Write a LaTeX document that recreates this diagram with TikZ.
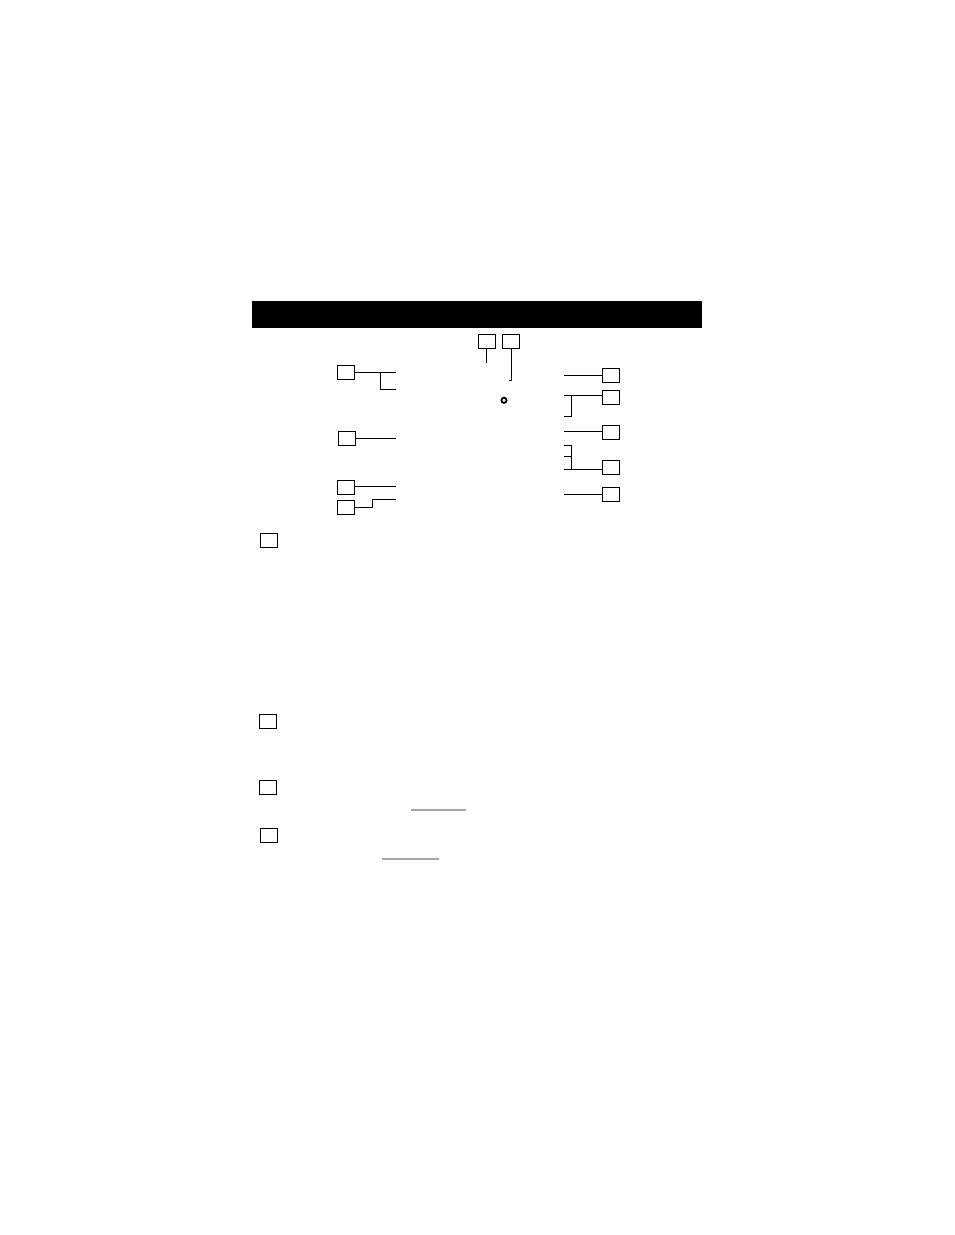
\documentclass[tikz,border=0pt]{standalone}
\begin{document}
\begin{tikzpicture}[x=1pt,y=-1pt,
  lbox/.style={draw=black,line width=1.2pt,rectangle,minimum width=17pt,minimum height=14pt,inner sep=0pt},
  conn/.style={draw=black,line width=1pt},
  gline/.style={draw=black!35,line width=1.6pt}]
\useasboundingbox (0,0) rectangle (954,1235);
\fill[black] (252,301) rectangle (702,327.7);
% top boxes
\node[lbox] (T1) at (486.7,341.5) {};
\node[lbox] (T2) at (511,341.5) {};
\coordinate (t1e) at (486.5,362.7);
\coordinate (t2e) at (511.5,380.5);
\coordinate (t2t) at (508.5,380.5);
\draw[conn] (T1.south -| t1e) -- (t1e);
\draw[conn] (T2.south -| t2e) -- (t2e) -- (t2t);
\node[draw=black,line width=1.8pt,circle,inner sep=0pt,minimum size=5.2pt] (dot) at (504,400.3) {};
% left boxes
\node[lbox] (A) at (345.8,372.3) {};
\node[lbox] (B) at (346.8,438.3) {};
\node[lbox] (C) at (345.8,487.5) {};
\node[lbox] (D) at (345.8,507.3) {};
\coordinate (a1) at (396,372.5);
\coordinate (ab) at (380.5,372.5);
\coordinate (a2) at (396,389.5);
\draw[conn] (A.east |- a1) -- (a1);
\draw[conn] (ab) -- (ab |- a2) -- (a2);
\coordinate (b1) at (396,438.5);
\draw[conn] (B.east |- b1) -- (b1);
\coordinate (c1) at (396,486.5);
\draw[conn] (C.east |- c1) -- (c1);
\coordinate (d1) at (372.5,507.5);
\coordinate (d2) at (372.5,499.5);
\coordinate (d3) at (396,499.5);
\draw[conn] (D.east |- d1) -- (d1) -- (d2) -- (d3);
% right boxes
\node[lbox] (R1) at (610.8,375.3) {};
\node[lbox] (R2) at (610.8,397.3) {};
\node[lbox] (R3) at (610.8,432.3) {};
\node[lbox] (R4) at (610.8,467.3) {};
\node[lbox] (R5) at (610.8,494.3) {};
\coordinate (r1) at (564,375.5);
\draw[conn] (r1) -- (r1 -| R1.west);
\coordinate (r2) at (564,395.5);
\coordinate (r2v) at (571.5,416.5);
\coordinate (r2b) at (564,416.5);
\draw[conn] (r2) -- (r2 -| R2.west);
\draw[conn] (r2v |- r2) -- (r2v) -- (r2b);
\coordinate (r3) at (564,431.5);
\draw[conn] (r3) -- (r3 -| R3.west);
\coordinate (r4) at (564,469.5);
\coordinate (r4v) at (571.5,445.5);
\coordinate (r4a) at (564,445.5);
\coordinate (r4m) at (564,456.5);
\draw[conn] (r4) -- (r4 -| R4.west);
\draw[conn] (r4a) -- (r4v) -- (r4v |- r4);
\draw[conn] (r4m) -- (r4m -| r4v);
\coordinate (r5) at (564,494.5);
\draw[conn] (r5) -- (r5 -| R5.west);
% bottom boxes
\node[lbox] (E) at (268.8,540.8) {};
\node[lbox] (F) at (267.7,721.2) {};
\node[lbox] (G) at (267.7,787.2) {};
\node[lbox] (H) at (269,835.2) {};
\coordinate (g1) at (411,809.7);
\coordinate (g2) at (465.7,809.7);
\draw[gline] (g1) -- (g2);
\coordinate (h1) at (382,858.7);
\coordinate (h2) at (439.3,858.7);
\draw[gline] (h1) -- (h2);
\end{tikzpicture}
\end{document}
